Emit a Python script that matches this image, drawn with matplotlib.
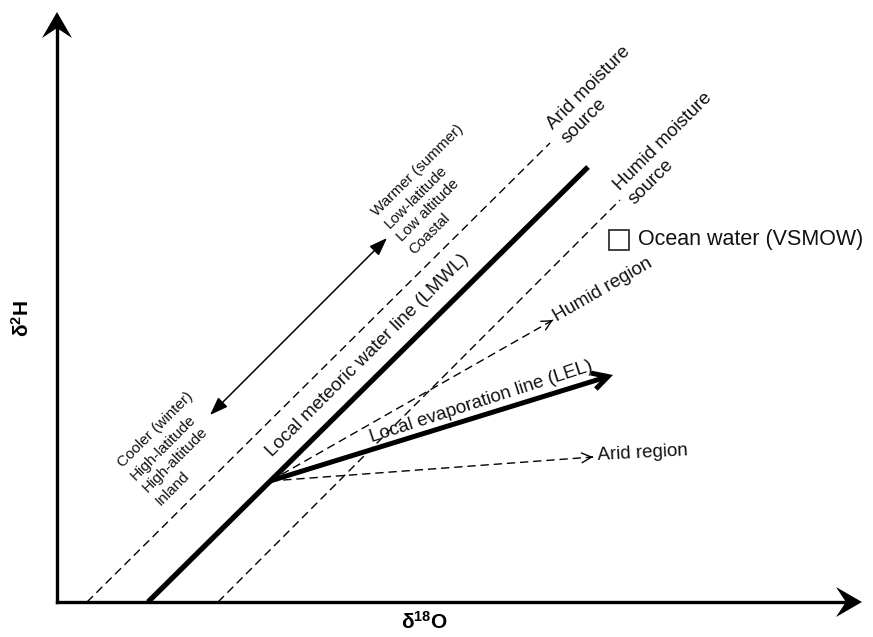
import numpy as np
import matplotlib.pyplot as plt
from matplotlib.patches import Polygon, FancyArrowPatch, Rectangle

plt.rcParams['font.family'] = ['Liberation Sans', 'DejaVu Sans']
plt.rcParams['mathtext.fontset'] = 'custom'
plt.rcParams['mathtext.rm'] = 'Liberation Sans'
plt.rcParams['mathtext.bf'] = 'Liberation Sans:bold'

# diagram units = pixels of the 873x637 canvas, y pointing up
origin = (57, 35)
x_axis_tip = (862, 35)
y_axis_tip = (57, 625)

# meteoric water lines (start, end)
lmwl = [(148, 35), (588, 470)]
arid_source = [(87, 35), (550, 494)]
humid_source = [(218, 35), (620, 437)]

# evaporation fan leaving the LMWL
fan_start = (270, 156)
lel_end = (613, 262)
humid_region_end = (553, 317)
arid_region_end = (593, 180)

# warmer <-> cooler gradient
gradient = [(210, 222), (387, 399)]

ocean_water = (619, 397)

warm_lines = ["Warmer (summer)", "Low-latitude", "Low altitude", "Coastal"]
cool_lines = ["Cooler (winter)", "High-latitude", "High-altitude", "Inland"]


def stealth(ax, tip, tail, length, width):
    tip = np.array(tip, float)
    d = tip - np.array(tail, float)
    d /= np.hypot(*d)
    n = np.array([-d[1], d[0]])
    back = tip - d * length
    pts = [tip, back + n * width / 2, tip - d * length * 0.62, back - n * width / 2]
    ax.add_patch(Polygon(pts, closed=True, color='black', lw=0, zorder=5))


def open_head(ax, tip, tail, lw, hl, hw):
    tip = np.array(tip, float)
    d = tip - np.array(tail, float)
    d /= np.hypot(*d)
    ax.add_patch(FancyArrowPatch(tip - d * 0.5, tip,
                                 arrowstyle='->,head_length=%g,head_width=%g' % (hl, hw),
                                 mutation_scale=1, lw=lw, color='black',
                                 shrinkA=0, shrinkB=0, zorder=5))


fig = plt.figure(figsize=(8.73, 6.37), dpi=100)
ax = fig.add_axes([0, 0, 1, 1])
ax.set_xlim(0, 873)
ax.set_ylim(0, 637)
ax.axis('off')

# axes
ax.plot([origin[0], x_axis_tip[0] - 15], [origin[1], origin[1]], color='black', lw=2.4,
        solid_capstyle='projecting')
ax.plot([origin[0], origin[0]], [origin[1], y_axis_tip[1] - 15], color='black', lw=2.4,
        solid_capstyle='projecting')
stealth(ax, x_axis_tip, origin, 26, 30)
stealth(ax, y_axis_tip, origin, 26, 30)

# LMWL and moisture source lines
ax.plot(*zip(*lmwl), color='black', lw=3.8, solid_capstyle='butt')
for ln in (arid_source, humid_source):
    ax.plot(*zip(*ln), color='black', lw=1.0, linestyle=(0, (6, 3.5)))

# evaporation fan
for end in (humid_region_end, arid_region_end):
    ax.plot([fan_start[0], end[0]], [fan_start[1], end[1]], color='black', lw=1.0,
            linestyle=(0, (6, 3.5)))
    open_head(ax, end, fan_start, 1.0, 7, 3.5)

ax.add_patch(FancyArrowPatch(fan_start, lel_end,
                             arrowstyle='->,head_length=11,head_width=6',
                             mutation_scale=1, lw=3.6, color='black',
                             shrinkA=0, shrinkB=0, capstyle='butt', joinstyle='miter'))

# gradient double arrow
ax.add_patch(FancyArrowPatch(gradient[0], gradient[1],
                             arrowstyle='<|-|>,head_length=11,head_width=4',
                             mutation_scale=1, lw=1.1, color='black',
                             shrinkA=0, shrinkB=0))

# ocean water
ax.add_patch(Rectangle((ocean_water[0] - 10, ocean_water[1] - 10), 20, 20,
                       fill=False, ec='#333333', lw=1.3))
ax.text(ocean_water[0] + 19, ocean_water[1], "Ocean water (VSMOW)", fontsize=15.5,
        ha='left', va='center', color='#111111')

# labels (multi-line blocks are anchored at the start of their last line)
lab = dict(color='#111111', ha='left', va='baseline', rotation_mode='anchor')
ax.text(272, 180, "Local meteoric water line (LMWL)", fontsize=13.5, rotation=45, **lab)
ax.text(372, 195, "Local evaporation line (LEL)", fontsize=13.5, rotation=18, **lab)
ax.text(557, 315, "Humid region", fontsize=13.5, rotation=30, **lab)
ax.text(598, 177, "Arid region", fontsize=13.5, rotation=3, **lab)
ax.text(565, 495, "Arid moisture\nsource", fontsize=13.5, rotation=45, linespacing=1.25, **lab)
ax.text(632, 434, "Humid moisture\nsource", fontsize=13.5, rotation=45, linespacing=1.25, **lab)
ax.text(412, 385, "\n".join(warm_lines), fontsize=11, rotation=45, linespacing=1.35, **lab)
ax.text(158, 134, "\n".join(cool_lines), fontsize=11, rotation=45, linespacing=1.35, **lab)

ax.text(425, 15, r'$\mathbf{\delta^{18}O}$', fontsize=15, ha='center', va='center')
ax.text(22, 319, r'$\mathbf{\delta^{2}H}$', fontsize=15, ha='center', va='center', rotation=90)

fig.savefig('out.png', dpi=100)
